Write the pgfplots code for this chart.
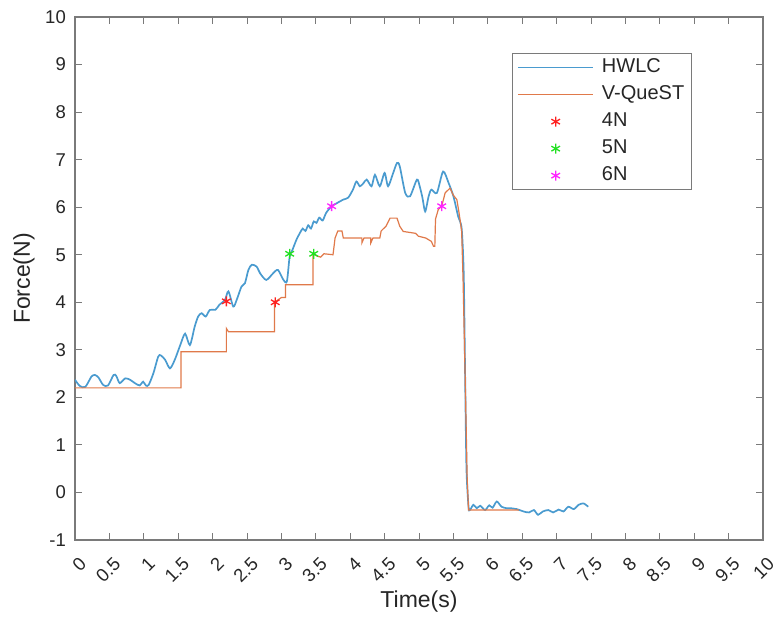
\documentclass[border=0pt]{standalone}
\usepackage{pgfplots}
\pgfplotsset{compat=1.18}
\usepackage{fontspec}
\setmainfont{Liberation Sans}
\definecolor{hw}{HTML}{4A9BCF}
\definecolor{vq}{HTML}{E0794A}
\definecolor{ax}{HTML}{7A7A7A}
\definecolor{txt}{HTML}{262626}
\definecolor{m4}{HTML}{FF2020}
\definecolor{m5}{HTML}{22E022}
\definecolor{m6}{HTML}{FF22FF}
\pgfplotsset{
  lineleg/.style={legend image code/.code={\draw[##1, line width=1.6pt] (0pt,0pt) -- (75pt,0pt);}},
  markleg/.style={legend image code/.code={\draw[##1] plot coordinates {(37.5pt,0pt)};}},
}
\begin{document}
\begin{tikzpicture}
\path[use as bounding box] (-75pt,-79pt) rectangle (698pt,540pt);
\begin{axis}[
  scale only axis, width=688pt, height=523pt,
  xmin=0, xmax=10, ymin=-1, ymax=10,
  xtick={0,0.5,1,1.5,2,2.5,3,3.5,4,4.5,5,5.5,6,6.5,7,7.5,8,8.5,9,9.5,10},
  ytick={-1,0,1,2,3,4,5,6,7,8,9,10},
  /pgf/number format/assume math mode=true,
  tick label style={font=\fontsize{18.5}{22}\selectfont, text=txt},
  xticklabel style={inner sep=0pt, xshift=8pt, yshift=-21pt, rotate=45, anchor=east},
  yticklabel style={inner sep=0pt, xshift=-9pt, anchor=east},
  tick align=inside, major tick length=7pt,
  tick style={ax, line width=0.9pt},
  axis line style={ax, line width=1.1pt},
  xlabel={Time(s)}, ylabel={Force(N)},
  every axis x label/.style={at={(axis description cs:0.5,0)}, anchor=center, yshift=-62pt, font=\fontsize{23}{27}\selectfont, text=txt},
  every axis y label/.style={at={(axis description cs:0,0.5)}, xshift=-51pt, anchor=center, rotate=90, font=\fontsize{23}{27}\selectfont, text=txt},
  legend style={at={(axis cs:6.35,9.24)}, anchor=north west, draw=ax, line width=1pt, fill=white,
    font=\fontsize{20}{24}\selectfont, text=txt, inner xsep=5pt, inner ysep=3pt,
    nodes={inner sep=2pt, text height=14pt, text depth=4pt},
    row sep=5pt, /tikz/every odd column/.append style={column sep=6pt}},
  legend cell align=left,
]
\addplot[hw, line width=1.7pt, smooth, tension=0.45, lineleg] coordinates {
(0,2.37) (0.07,2.24) (0.15,2.22) (0.24,2.44) (0.29,2.47) (0.34,2.42) (0.41,2.26) (0.48,2.25)
(0.56,2.47) (0.6,2.45) (0.65,2.3) (0.73,2.4) (0.8,2.37) (0.87,2.3) (0.94,2.25) (0.99,2.33)
(1.03,2.25) (1.07,2.26) (1.14,2.51) (1.21,2.86) (1.25,2.88) (1.31,2.79) (1.38,2.61) (1.45,2.79)
(1.53,3.1) (1.6,3.34) (1.67,3.1) (1.74,3.49) (1.79,3.7) (1.84,3.77) (1.9,3.7) (1.96,3.84)
(2.04,3.84) (2.1,3.95) (2.18,4.05) (2.23,4.23) (2.3,3.91) (2.35,4.05) (2.42,4.33) (2.47,4.4)
(2.52,4.68) (2.57,4.79) (2.64,4.75) (2.69,4.61) (2.78,4.47) (2.88,4.61) (2.95,4.68) (3.03,4.47)
(3.08,4.44) (3.12,4.96) (3.16,5.1) (3.22,5.32) (3.27,5.46) (3.31,5.55) (3.35,5.5) (3.39,5.62)
(3.43,5.55) (3.47,5.7) (3.51,5.67) (3.55,5.78) (3.6,5.72) (3.65,5.88) (3.73,6.02) (3.8,6.08)
(3.9,6.16) (3.97,6.2) (4.04,6.37) (4.09,6.54) (4.14,6.44) (4.19,6.5) (4.24,6.58) (4.31,6.44)
(4.36,6.68) (4.43,6.44) (4.5,6.72) (4.55,6.44) (4.62,6.7) (4.68,6.93) (4.72,6.86) (4.8,6.3)
(4.87,6.23) (4.97,6.58) (5.01,6.44) (5.05,6.2) (5.09,5.91) (5.14,6.23) (5.18,6.37) (5.26,6.3)
(5.35,6.75) (5.43,6.51) (5.5,6.23) (5.57,5.8) (5.62,5.55) (5.65,4.6) (5.67,2.5) (5.69,0.5)
(5.72,-0.3) (5.74,-0.37) (5.79,-0.26) (5.84,-0.33) (5.89,-0.28) (5.96,-0.37) (6.02,-0.27) (6.07,-0.32)
(6.13,-0.19) (6.2,-0.3) (6.27,-0.33) (6.32,-0.33) (6.42,-0.35) (6.52,-0.4) (6.6,-0.42) (6.67,-0.37)
(6.73,-0.47) (6.8,-0.4) (6.88,-0.37) (6.95,-0.42) (7.03,-0.36) (7.1,-0.4) (7.17,-0.3) (7.25,-0.35)
(7.32,-0.26) (7.39,-0.23) (7.46,-0.3)
};
\addlegendentry{HWLC}
\addplot[vq, line width=1.2pt, lineleg] coordinates {
(0,2.2) (1.54,2.2) (1.54,2.96) (2.2,2.96) (2.2,3.45) (2.23,3.38) (2.9,3.38) (2.9,4.0)
(2.95,4.05) (3.0,4.1) (3.06,4.1) (3.06,4.37) (3.46,4.37) (3.46,5.02) (3.52,4.97) (3.57,4.95)
(3.62,5.02) (3.75,5.0) (3.78,5.35) (3.82,5.5) (3.88,5.5) (3.9,5.35) (4.17,5.35) (4.17,5.25)
(4.2,5.35) (4.3,5.35) (4.3,5.25) (4.33,5.35) (4.43,5.35) (4.45,5.5) (4.52,5.6) (4.58,5.77)
(4.68,5.77) (4.72,5.6) (4.77,5.49) (4.95,5.45) (4.99,5.39) (5.1,5.35) (5.18,5.28) (5.21,5.18)
(5.23,5.18) (5.24,5.75) (5.28,5.95) (5.33,6.02) (5.38,6.3) (5.45,6.4) (5.5,6.25) (5.55,6.16)
(5.58,5.9) (5.62,5.5) (5.64,4.5) (5.67,2.5) (5.7,0.3) (5.72,-0.37) (6.45,-0.37)
};
\addlegendentry{V-QueST}
\addplot[only marks, mark=asterisk, mark size=5pt, m4, line width=1.3pt, markleg] coordinates {(2.2,4.02) (2.91,4.0)};
\addlegendentry{4N}
\addplot[only marks, mark=asterisk, mark size=5pt, m5, line width=1.3pt, markleg] coordinates {(3.12,5.02) (3.47,5.02)};
\addlegendentry{5N}
\addplot[only marks, mark=asterisk, mark size=5pt, m6, line width=1.3pt, markleg] coordinates {(3.73,6.02) (5.33,6.02)};
\addlegendentry{6N}
\end{axis}
\end{tikzpicture}
\end{document}
